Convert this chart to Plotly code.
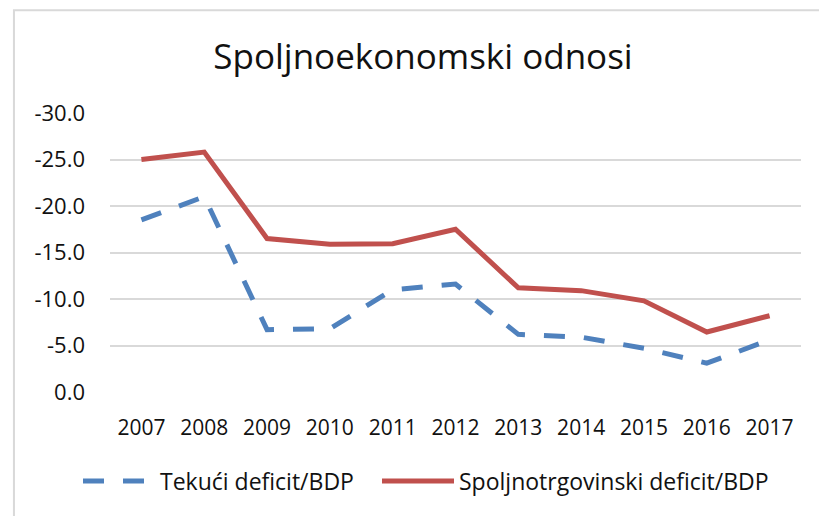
import plotly.graph_objects as go

years = ["2007", "2008", "2009", "2010", "2011", "2012", "2013", "2014", "2015", "2016", "2017"]
tekuci = [-18.5, -21.0, -6.7, -6.8, -11.0, -11.6, -6.2, -5.9, -4.7, -3.1, -5.6]
spoljnotrgovinski = [-25.0, -25.8, -16.5, -15.9, -15.95, -17.5, -11.2, -10.9, -9.8, -6.45, -8.2]
y_tick_vals = [0, -5, -10, -15, -20, -25, -30]
y_tick_text = ["0.0", "-5.0", "-10.0", "-15.0", "-20.0", "-25.0", "-30.0"]

title_text = "Spoljnoekonomski odnosi"
name_tekuci = "Tekući deficit/BDP"
name_spolj = "Spoljnotrgovinski deficit/BDP"

FONT = "Open Sans"

fig = go.Figure()
fig.add_trace(go.Scatter(
    x=years, y=tekuci, mode="lines", name=name_tekuci,
    line=dict(color="#4F81BD", width=5, dash="21px,19px"),
    hoverinfo="skip", legend="legend",
))
fig.add_trace(go.Scatter(
    x=years, y=spoljnotrgovinski, mode="lines", name=name_spolj,
    line=dict(color="#C0504D", width=5),
    hoverinfo="skip", legend="legend2",
))

# chart-area border (light grey, top and left visible)
fig.add_shape(type="rect", xref="paper", yref="paper",
              x0=-0.139, x1=1.1, y0=-0.6, y1=1.368,
              line=dict(color="#D9D9D9", width=2), layer="below")

legend_common = dict(orientation="h", xref="container", yref="container",
                     xanchor="left", y=1 - 481 / 516, yanchor="middle",
                     font=dict(family=FONT, size=23, color="#111111"),
                     itemwidth=72, bgcolor="rgba(0,0,0,0)")

fig.update_layout(
    width=819, height=516,
    margin=dict(l=110, r=18, t=113, b=124),
    paper_bgcolor="white", plot_bgcolor="white",
    font=dict(family=FONT, size=22, color="#111111"),
    title=dict(text=title_text, x=0.5165, xanchor="center",
               y=1 - 57 / 516, yanchor="middle", yref="container",
               font=dict(family=FONT, size=35, color="#111111")),
    showlegend=True,
    legend=dict(x=78 / 819, **legend_common),
    legend2=dict(x=377 / 819, **legend_common),
    xaxis=dict(type="category", range=[-0.5, 10.5], showgrid=False,
               showline=False, ticks="",
               tickfont=dict(size=21), ticklabelstandoff=21),
    yaxis=dict(range=[0, -30], tickvals=y_tick_vals, ticktext=y_tick_text,
               showgrid=True, gridcolor="#D9D9D9", gridwidth=1.5,
               zeroline=False, showline=False, ticks="",
               tickfont=dict(size=22), ticklabelstandoff=24),
)

fig.write_html("out.html", config={"displayModeBar": False},
               post_script="document.body.style.margin='0';")
